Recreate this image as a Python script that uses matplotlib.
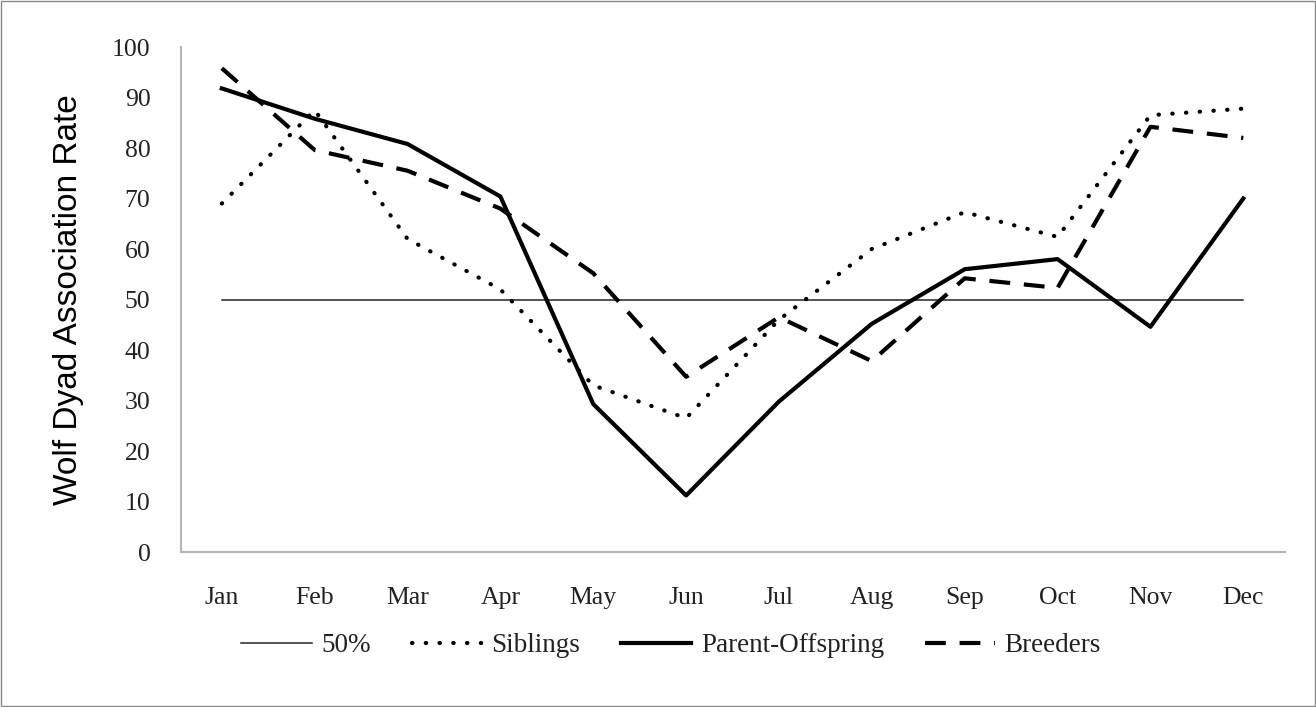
import matplotlib.pyplot as plt
from matplotlib.patches import Rectangle

meses = ["Jan", "Feb", "Mar", "Apr", "May", "Jun", "Jul", "Aug", "Sep", "Oct", "Nov", "Dec"]
linea_50 = [50] * 12
siblings = [69, 87.5, 62, 52, 33, 26.5, 46, 60, 67.3, 62.4, 86.5, 87.8]
parent_offspring = [91.8, 85.8, 80.8, 70.4, 29.3, 11.2, 29.8, 45.2, 56, 58, 44.6, 70]
breeders = [95.8, 79.6, 75.5, 68, 55.2, 34.7, 46.5, 37.8, 54.2, 52.3, 84.2, 82]

fig = plt.figure(figsize=(13.16, 7.07), dpi=100)
ax = fig.add_axes([0.1375, 0.2192, 0.839, 0.7143])

x = range(len(meses))
ax.plot(x, linea_50, color="#222222", linewidth=1.1, label="50%")
ax.plot(x, siblings, color="black", linewidth=3, linestyle=(0, (0.1, 3.2)),
        dash_capstyle="round", label="Siblings")
ax.plot(x, parent_offspring, color="black", linewidth=3, label="Parent-Offspring")
ax.plot(x, breeders, color="black", linewidth=3, linestyle=(0, (5, 3.3)), label="Breeders")

ax.set_xlim(-0.44, 11.45)
ax.set_ylim(0, 100)
ax.set_yticks(range(0, 101, 10))
ax.set_xticks(list(x))
ax.set_xticklabels(meses)
ax.tick_params(length=0, labelsize=18.5, labelcolor="#222222")
ax.tick_params(axis="x", pad=25)
ax.tick_params(axis="y", pad=22)
for lbl in ax.get_xticklabels() + ax.get_yticklabels():
    lbl.set_family("Liberation Serif")

for lado in ["top", "right"]:
    ax.spines[lado].set_visible(False)
for lado in ["left", "bottom"]:
    ax.spines[lado].set_color("#b5b5b5")
    ax.spines[lado].set_linewidth(1.5)

ax.set_ylabel("Wolf Dyad Association Rate", fontsize=24, family="Liberation Sans", labelpad=20)

fig.legend(loc="center", bbox_to_anchor=(0.51, 0.087), ncol=4, frameon=False,
           prop={"family": "Liberation Serif", "size": 19.5}, handlelength=2.6,
           handletextpad=0.35, columnspacing=1.5, labelcolor="#222222")

fig.patches.append(Rectangle((0.001, 0.001), 0.998, 0.997, transform=fig.transFigure,
                             fill=False, edgecolor="#888888", linewidth=1))

fig.savefig("out.png", dpi=100)
